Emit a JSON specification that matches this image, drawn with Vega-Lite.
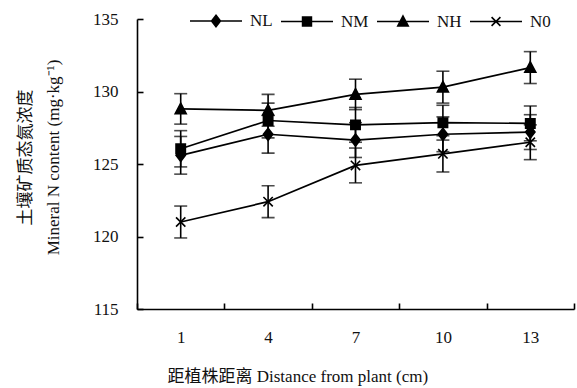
{
  "$schema": "https://vega.github.io/schema/vega-lite/v6.json",
  "autosize": {"type": "none"},
  "padding": {"left": 137, "top": 19, "right": 3, "bottom": 79},
  "width": 437,
  "height": 290,
  "background": "white",
  "config": {
    "view": {"stroke": null},
    "font": "Liberation Serif",
    "axis": {
      "labelFont": "Liberation Serif",
      "titleFont": "Liberation Serif, Noto Sans CJK SC",
      "labelColor": "#111",
      "titleColor": "#111",
      "domainColor": "#000",
      "tickColor": "#000",
      "domainWidth": 1.6,
      "tickWidth": 1.6,
      "grid": false,
      "labelFontSize": 17,
      "titleFontSize": 17,
      "titleFontWeight": "normal"
    },
    "legend": {
      "labelFont": "Liberation Serif",
      "labelFontSize": 17,
      "labelColor": "#111"
    }
  },
  "data": {
    "values": [
      {"dist": 1, "series": "NL", "mean": 125.6, "err": 1.3},
      {"dist": 4, "series": "NL", "mean": 127.05, "err": 1.3},
      {"dist": 7, "series": "NL", "mean": 126.65, "err": 1.2},
      {"dist": 10, "series": "NL", "mean": 127.05, "err": 1.2},
      {"dist": 13, "series": "NL", "mean": 127.2, "err": 1.2},
      {"dist": 1, "series": "NM", "mean": 126.05, "err": 1.25},
      {"dist": 4, "series": "NM", "mean": 128.0, "err": 1.2},
      {"dist": 7, "series": "NM", "mean": 127.7, "err": 1.2},
      {"dist": 10, "series": "NM", "mean": 127.85, "err": 1.2},
      {"dist": 13, "series": "NM", "mean": 127.8, "err": 1.2},
      {"dist": 1, "series": "NH", "mean": 128.8, "err": 1.05},
      {"dist": 4, "series": "NH", "mean": 128.7, "err": 1.1},
      {"dist": 7, "series": "NH", "mean": 129.8, "err": 1.05},
      {"dist": 10, "series": "NH", "mean": 130.3, "err": 1.1},
      {"dist": 13, "series": "NH", "mean": 131.65, "err": 1.1},
      {"dist": 1, "series": "N0", "mean": 121.0, "err": 1.1},
      {"dist": 4, "series": "N0", "mean": 122.4, "err": 1.1},
      {"dist": 7, "series": "N0", "mean": 124.9, "err": 1.2},
      {"dist": 10, "series": "N0", "mean": 125.7, "err": 1.25},
      {"dist": 13, "series": "N0", "mean": 126.5, "err": 1.2}
    ]
  },
  "encoding": {
    "x": {
      "field": "dist",
      "type": "ordinal",
      "sort": "ascending",
      "scale": {"type": "band", "paddingInner": 0, "paddingOuter": 0},
      "axis": {
        "title": "距植株距离  Distance from plant (cm)",
        "labelAngle": 0,
        "labelFont": "Liberation Serif",
        "tickBand": "extent",
        "tickSize": -6,
        "labelPadding": 26,
        "titleAlign": "left",
        "titleX": 30,
        "titleY": 67,
        "titleBaseline": "middle"
      }
    },
    "y": {
      "field": "mean",
      "type": "quantitative",
      "scale": {"domain": [115, 135], "nice": false, "zero": false},
      "axis": {
        "values": [115, 120, 125, 130, 135],
        "labelFont": "Liberation Serif",
        "tickSize": -6,
        "labelPadding": 25,
        "title": ["土壤矿质态氮浓度", "Mineral N content (mg·kg⁻¹)"],
        "titleLineHeight": 28,
        "titleX": -112,
        "titleY": 138,
        "titleBaseline": "middle",
        "titleAngle": -90
      }
    }
  },
  "resolve": {"scale": {"shape": "independent"}},
  "layer": [
    {
      "mark": {"type": "errorbar", "ticks": {"size": 13, "thickness": 1.6, "color": "#000"}, "rule": {"strokeWidth": 1.6, "color": "#000"}},
      "encoding": {
        "yError": {"field": "err"},
        "detail": {"field": "series"}
      }
    },
    {
      "mark": {"type": "line", "color": "#000", "strokeWidth": 1.7},
      "encoding": {
        "detail": {"field": "series"}
      }
    },
    {
      "mark": {"type": "point", "filled": true, "fill": "#000", "stroke": "#000", "strokeWidth": 1.6, "opacity": 1, "size": 121},
      "encoding": {
        "shape": {
          "field": "series",
          "type": "nominal",
          "scale": {
            "domain": ["NL", "NM", "NH", "N0"],
            "range": [
              "M0,-1.1L0.85,0L0,1.1L-0.85,0Z",
              "M-0.85,-0.85H0.85V0.85H-0.85Z",
              "M0,-1.05L1,0.85H-1Z",
              "M-0.85,-0.85L0.85,0.85M-0.85,0.85L0.85,-0.85"
            ]
          },
          "legend": null
        }
      }
    },
    {
      "mark": {"type": "point", "filled": false, "fill": "#000", "stroke": "#000", "strokeWidth": 1.6, "opacity": 0, "size": 1},
      "encoding": {
        "shape": {
          "field": "series",
          "type": "nominal",
          "scale": {
            "domain": ["NL", "NM", "NH", "N0"],
            "range": [
              "M-1,0H1M0,-0.22L0.17,0L0,0.22L-0.17,0Z",
              "M-1,0H1M-0.17,-0.17H0.17V0.17H-0.17Z",
              "M-1,0H1M0,-0.21L0.2,0.17H-0.2Z",
              "M-1,0H1M-0.17,-0.17L0.17,0.17M-0.17,0.17L0.17,-0.17"
            ]
          },
          "legend": {
            "title": null,
            "orient": "none",
            "direction": "horizontal",
            "legendX": 52,
            "legendY": -25,
            "padding": 0,
            "symbolSize": 2704,
            "symbolOpacity": 1,
            "symbolStrokeWidth": 1.6,
            "labelOffset": 7,
            "columnPadding": 4
          }
        }
      }
    }
  ]
}
